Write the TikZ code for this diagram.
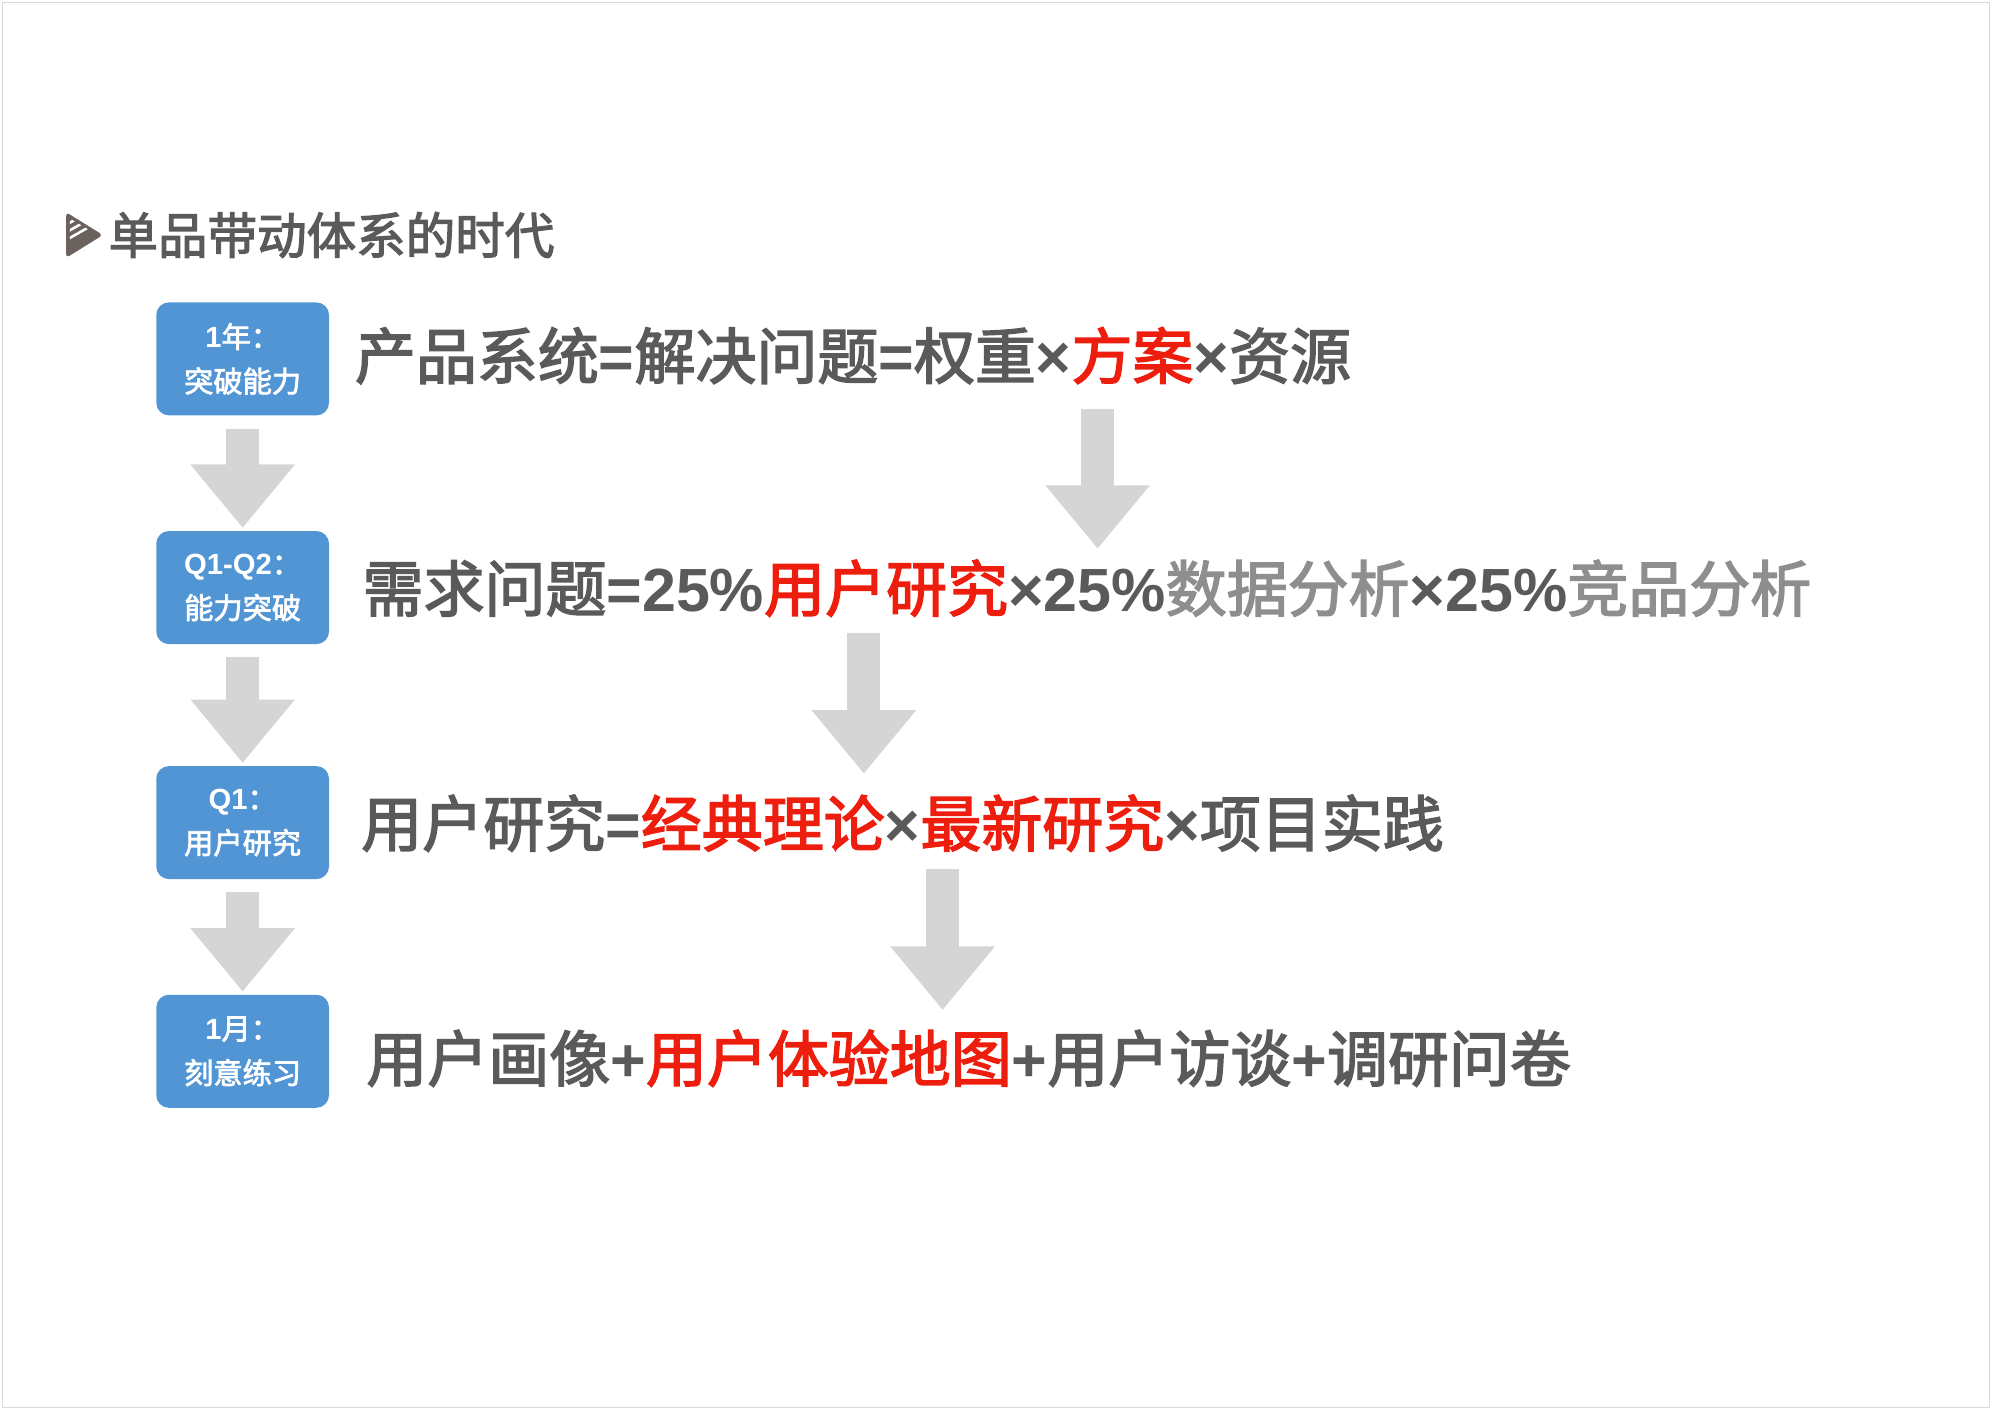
\documentclass[tikz,border=0pt]{standalone}
\usepackage{fontspec}
\setmainfont{Noto Sans CJK SC}[FakeBold=2.5]
\newfontfamily\latfont{Liberation Sans}
\usetikzlibrary{calc,arrows.meta}

\definecolor{stageblue}{HTML}{5295D5}
\definecolor{flowgray}{HTML}{D5D5D5}
\definecolor{inkgray}{HTML}{5A5A5A}
\definecolor{palegray}{HTML}{8E8E8E}
\definecolor{keyred}{HTML}{EE1E0E}
\definecolor{icongray}{HTML}{6B625E}

\newcommand{\keyw}[1]{\textcolor{keyred}{#1}}
\newcommand{\palew}[1]{\textcolor{palegray}{#1}}
\newcommand{\sym}[1]{{\latfont\bfseries #1}}

\tikzset{
  stage/.style={fill=stageblue, rounded corners=5pt, minimum width=68pt,
    minimum height=44.5pt, inner sep=0pt, align=center, text=white,
    font=\fontsize{11.5}{17.5}\selectfont},
  formula/.style={anchor=west, inner sep=0pt, text=inkgray,
    font=\fontsize{24}{28}\selectfont},
  flow/.style={draw=flowgray, line width=13pt,
    -{Triangle[width=39.5pt,length=25pt]}}
}

\begin{document}
\begin{tikzpicture}[x=0.5pt,y=0.5pt]
  \useasboundingbox (0,0) rectangle (1568,-1110);
  \draw[black!15, line width=0.6pt] (2,-2) rectangle (1566,-1108);

  %% Title and its marker
  \begin{scope}
    \fill[icongray, rounded corners=1.5pt] (52,-167) -- (81,-185) -- (52,-203) -- cycle;
    \clip (55,-172) -- (77,-185) -- (55,-199) -- cycle;
    \foreach \k in {0,1,2}
      \draw[white, line width=1pt] ($(52,-177)+(0,-6*\k)$) -- ++(28,16);
  \end{scope}
  \node[anchor=west, inner sep=0pt, text=inkgray, font=\fontsize{19.5}{22}\selectfont]
    (title) at (85,-185) {单品带动体系的时代};

  %% Stage boxes on the left
  \foreach \n/\y/\lineA/\lineB in {yr/282.5/\sym{1}年：/突破能力,
      h1/462.5/\sym{Q1-Q2}：/能力突破, q1/647.5/\sym{Q1}：/用户研究,
      m1/827.5/\sym{1}月：/刻意练习}
    \node[stage] (\n) at (191,-\y) {\lineA\\\lineB};

  %% Arrows between stages
  \foreach \a/\b in {yr/h1, h1/q1, q1/m1}
    \draw[flow, shorten <=5pt, shorten >=1pt] (\a) -- (\b);

  %% Formula lines
  \node[formula] (f1) at (279,-280)
    {产品系统\sym{=}解决问题\sym{=}权重\sym{×}\keyw{方案}\sym{×}资源};
  \node[formula] (f2) at (285,-463)
    {需求问题\sym{=25\%}\keyw{用户研究}\sym{×25\%}\palew{数据分析}\sym{×25\%}\palew{竞品分析}};
  \node[formula] (f3) at (284,-648)
    {用户研究\sym{=}\keyw{经典理论}\sym{×}\keyw{最新研究}\sym{×}项目实践};
  \node[formula] (f4) at (288,-833)
    {用户画像\sym{+}\keyw{用户体验地图}\sym{+}用户访谈\sym{+}调研问卷};

  %% Arrows from one formula down to the next
  \coordinate (s1) at (864,-322); \coordinate (e1) at (864,-432);
  \coordinate (s2) at (680,-498); \coordinate (e2) at (680,-609);
  \coordinate (s3) at (742,-684); \coordinate (e3) at (742,-795);
  \foreach \s/\e in {s1/e1, s2/e2, s3/e3}
    \draw[flow] (\s) -- (\e);
\end{tikzpicture}
\end{document}
